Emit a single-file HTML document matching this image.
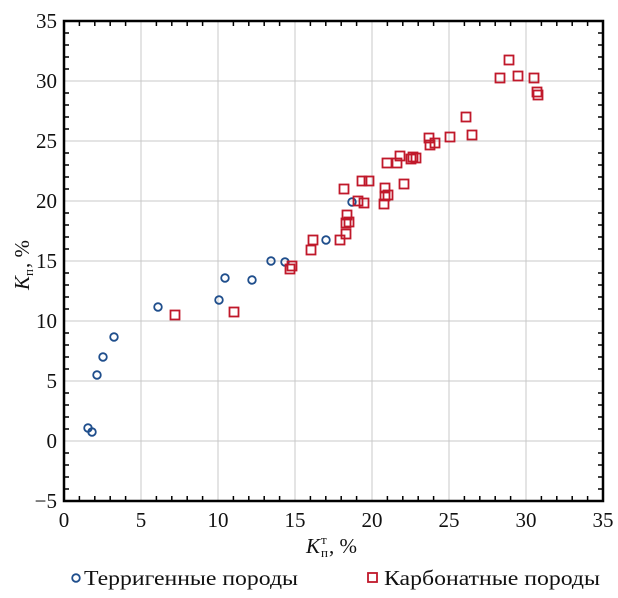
<!DOCTYPE html>
<html><head><meta charset="utf-8"><style>
html,body{margin:0;padding:0;background:#fff;}
svg{display:block;font-family:"Liberation Serif","DejaVu Serif",serif;}
</style></head><body>
<svg width="618" height="598" viewBox="0 0 618 598" xmlns="http://www.w3.org/2000/svg">
<g stroke="#c8c8c8" stroke-width="1">
<line x1="141" y1="21" x2="141" y2="501"/><line x1="218" y1="21" x2="218" y2="501"/>
<line x1="295" y1="21" x2="295" y2="501"/><line x1="372" y1="21" x2="372" y2="501"/>
<line x1="449" y1="21" x2="449" y2="501"/><line x1="526" y1="21" x2="526" y2="501"/>
<line x1="64" y1="81" x2="603" y2="81"/><line x1="64" y1="141" x2="603" y2="141"/>
<line x1="64" y1="201" x2="603" y2="201"/><line x1="64" y1="261" x2="603" y2="261"/>
<line x1="64" y1="321" x2="603" y2="321"/><line x1="64" y1="381" x2="603" y2="381"/>
<line x1="64" y1="441" x2="603" y2="441"/>
</g>
<path stroke="#000" stroke-width="1.5" fill="none" d="
M79.4 501v-5M94.8 501v-5M110.2 501v-5M125.6 501v-5M156.4 501v-5M171.8 501v-5M187.2 501v-5M202.6 501v-5M233.4 501v-5M248.8 501v-5M264.2 501v-5M279.6 501v-5M310.4 501v-5M325.8 501v-5M341.2 501v-5M356.6 501v-5M387.4 501v-5M402.8 501v-5M418.2 501v-5M433.6 501v-5M464.4 501v-5M479.8 501v-5M495.2 501v-5M510.6 501v-5M541.4 501v-5M556.8 501v-5M572.2 501v-5M587.6 501v-5
M79.4 21v5M94.8 21v5M110.2 21v5M125.6 21v5M156.4 21v5M171.8 21v5M187.2 21v5M202.6 21v5M233.4 21v5M248.8 21v5M264.2 21v5M279.6 21v5M310.4 21v5M325.8 21v5M341.2 21v5M356.6 21v5M387.4 21v5M402.8 21v5M418.2 21v5M433.6 21v5M464.4 21v5M479.8 21v5M495.2 21v5M510.6 21v5M541.4 21v5M556.8 21v5M572.2 21v5M587.6 21v5
M64 33h5M64 45h5M64 57h5M64 69h5M64 93h5M64 105h5M64 117h5M64 129h5M64 153h5M64 165h5M64 177h5M64 189h5M64 213h5M64 225h5M64 237h5M64 249h5M64 273h5M64 285h5M64 297h5M64 309h5M64 333h5M64 345h5M64 357h5M64 369h5M64 393h5M64 405h5M64 417h5M64 429h5M64 453h5M64 465h5M64 477h5M64 489h5
M603 33h-5M603 45h-5M603 57h-5M603 69h-5M603 93h-5M603 105h-5M603 117h-5M603 129h-5M603 153h-5M603 165h-5M603 177h-5M603 189h-5M603 213h-5M603 225h-5M603 237h-5M603 249h-5M603 273h-5M603 285h-5M603 297h-5M603 309h-5M603 333h-5M603 345h-5M603 357h-5M603 369h-5M603 393h-5M603 405h-5M603 417h-5M603 429h-5M603 453h-5M603 465h-5M603 477h-5M603 489h-5"/>
<rect x="64" y="21" width="539" height="480" fill="none" stroke="#000" stroke-width="2.5"/>
<g font-size="21" fill="#111" text-anchor="end">
<text x="57" y="28">35</text><text x="57" y="88">30</text><text x="57" y="148">25</text>
<text x="57" y="208">20</text><text x="57" y="268">15</text><text x="57" y="328">10</text>
<text x="57" y="388">5</text><text x="57" y="448">0</text><text x="57" y="508">−5</text>
</g>
<g font-size="21" fill="#111" text-anchor="middle">
<text x="64" y="527">0</text><text x="141" y="527">5</text><text x="218" y="527">10</text>
<text x="295" y="527">15</text><text x="372" y="527">20</text><text x="449" y="527">25</text>
<text x="526" y="527">30</text><text x="603" y="527">35</text>
</g>
<text x="306" y="553" font-size="21" fill="#111" font-style="italic">K</text>
<text x="321" y="557" font-size="13" fill="#111">п</text>
<text x="321" y="544" font-size="13" fill="#111">т</text>
<text x="329" y="553" font-size="21" fill="#111">, %</text>
<g transform="translate(29,268) rotate(-90)" fill="#111">
<text x="-22" y="0" font-size="21" font-style="italic">K</text>
<text x="-8" y="4" font-size="13">п</text>
<text x="0" y="0" font-size="21">, %</text>
</g>
<g fill="none" stroke="#1f4e8c" stroke-width="1.8">
<circle cx="88" cy="428" r="3.8"/><circle cx="92" cy="432" r="3.8"/><circle cx="97" cy="375" r="3.8"/>
<circle cx="103" cy="357" r="3.8"/><circle cx="114" cy="337" r="3.8"/><circle cx="158" cy="307" r="3.8"/>
<circle cx="219" cy="300" r="3.8"/><circle cx="225" cy="278" r="3.8"/><circle cx="252" cy="280" r="3.8"/>
<circle cx="271" cy="261" r="3.8"/><circle cx="285" cy="262" r="3.8"/><circle cx="326" cy="240" r="3.8"/>
<circle cx="352" cy="202" r="3.8"/>
</g>
<g fill="none" stroke="#c0182a" stroke-width="1.8">
<rect x="170.5" y="310.5" width="9" height="9"/><rect x="229.5" y="307.5" width="9" height="9"/>
<rect x="285.5" y="264.5" width="9" height="9"/><rect x="287.5" y="261.5" width="9" height="9"/>
<rect x="306.5" y="245.5" width="9" height="9"/><rect x="308.5" y="235.5" width="9" height="9"/>
<rect x="335.5" y="235.5" width="9" height="9"/><rect x="341.5" y="229.5" width="9" height="9"/>
<rect x="341.5" y="218.5" width="9" height="9"/><rect x="342.5" y="210.5" width="9" height="9"/>
<rect x="344.5" y="217.5" width="9" height="9"/><rect x="339.5" y="184.5" width="9" height="9"/>
<rect x="353.5" y="196.5" width="9" height="9"/><rect x="357.5" y="176.5" width="9" height="9"/>
<rect x="359.5" y="198.5" width="9" height="9"/><rect x="364.5" y="176.5" width="9" height="9"/>
<rect x="380.5" y="183.5" width="9" height="9"/><rect x="382.5" y="158.5" width="9" height="9"/>
<rect x="379.5" y="199.5" width="9" height="9"/><rect x="380.5" y="191.5" width="9" height="9"/>
<rect x="383.5" y="190.5" width="9" height="9"/><rect x="392.5" y="158.5" width="9" height="9"/>
<rect x="395.5" y="151.5" width="9" height="9"/><rect x="399.5" y="179.5" width="9" height="9"/>
<rect x="406.5" y="154.5" width="9" height="9"/><rect x="408.5" y="152.5" width="9" height="9"/>
<rect x="411.5" y="153.5" width="9" height="9"/><rect x="424.5" y="133.5" width="9" height="9"/>
<rect x="425.5" y="140.5" width="9" height="9"/><rect x="430.5" y="138.5" width="9" height="9"/>
<rect x="445.5" y="132.5" width="9" height="9"/><rect x="461.5" y="112.5" width="9" height="9"/>
<rect x="467.5" y="130.5" width="9" height="9"/><rect x="495.5" y="73.5" width="9" height="9"/>
<rect x="504.5" y="55.5" width="9" height="9"/><rect x="513.5" y="71.5" width="9" height="9"/>
<rect x="529.5" y="73.5" width="9" height="9"/><rect x="532.5" y="87.5" width="9" height="9"/>
<rect x="533.5" y="90.5" width="9" height="9"/>
</g>
<circle cx="76" cy="578" r="3.8" fill="none" stroke="#1f4e8c" stroke-width="1.8"/>
<text x="84" y="585" font-size="21" fill="#111" textLength="214" lengthAdjust="spacingAndGlyphs">Терригенные породы</text>
<rect x="368" y="573" width="9" height="9" fill="none" stroke="#c0182a" stroke-width="1.8"/>
<text x="384" y="585" font-size="21" fill="#111" textLength="216" lengthAdjust="spacingAndGlyphs">Карбонатные породы</text>
</svg>
</body></html>
